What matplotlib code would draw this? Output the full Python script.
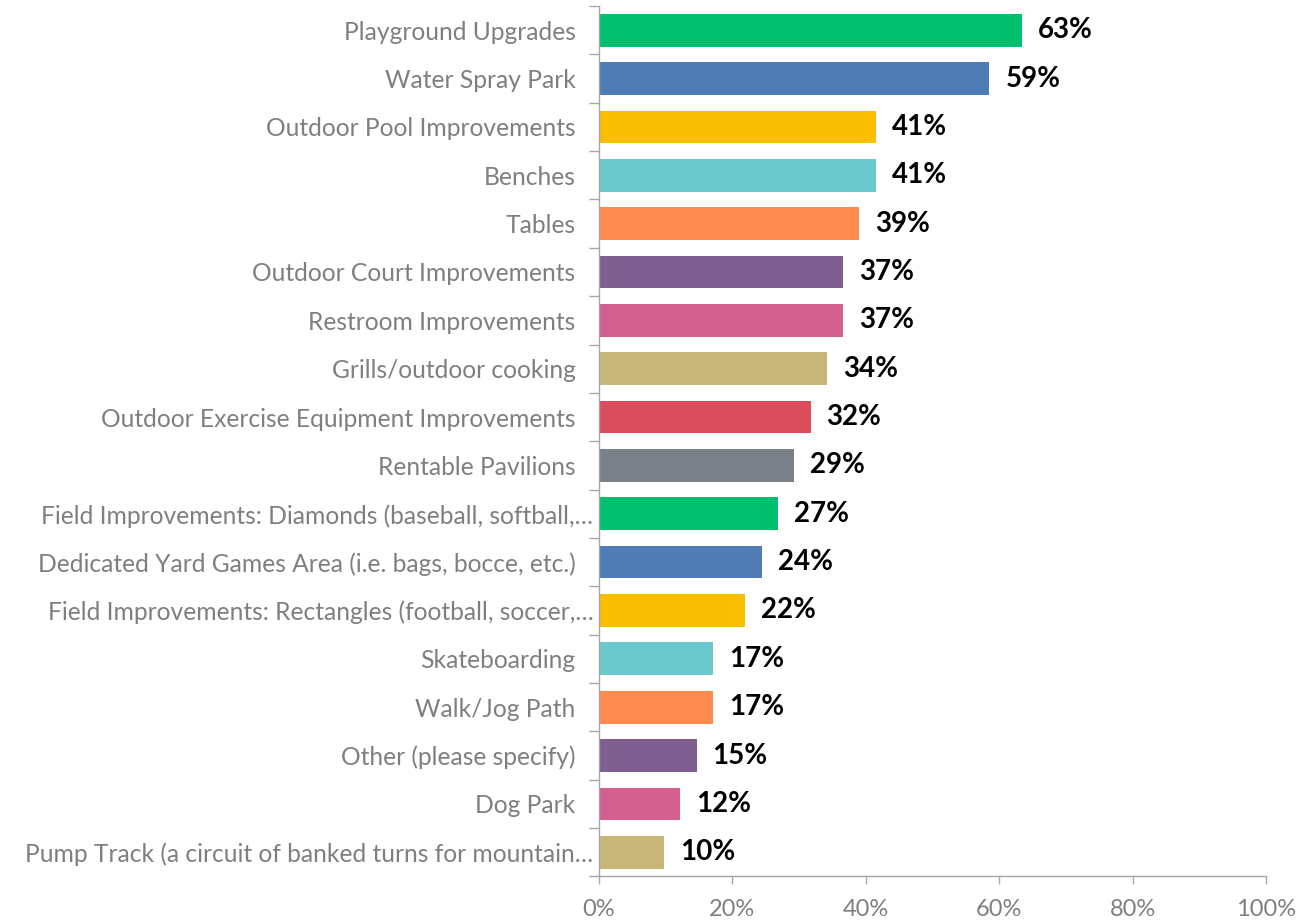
import matplotlib.pyplot as plt
from matplotlib.ticker import FixedLocator
from matplotlib.transforms import ScaledTranslation

categories = [
    "Playground Upgrades",
    "Water Spray Park",
    "Outdoor Pool Improvements",
    "Benches",
    "Tables",
    "Outdoor Court Improvements",
    "Restroom Improvements",
    "Grills/outdoor cooking",
    "Outdoor Exercise Equipment Improvements",
    "Rentable Pavilions",
    "Field Improvements: Diamonds (baseball, softball,\u2026",
    "Dedicated Yard Games Area (i.e. bags, bocce, etc.)",
    "Field Improvements: Rectangles (football, soccer,\u2026",
    "Skateboarding",
    "Walk/Jog Path",
    "Other (please specify)",
    "Dog Park",
    "Pump Track (a circuit of banked turns for mountain\u2026",
]
# percent of respondents
values = [63.41, 58.54, 41.46, 41.46, 39.02, 36.59, 36.59, 34.15, 31.71,
          29.27, 26.83, 24.39, 21.95, 17.07, 17.07, 14.63, 12.20, 9.76]
palette = ["#00BF6F", "#507CB6", "#F9BE00", "#6BC8CD", "#FF8B4F",
           "#7F5F90", "#D35F8F", "#C9B77A", "#DB4D5C", "#7A8189"]
x_ticks = [0, 20, 40, 60, 80, 100]

plt.rcParams["font.family"] = ["Lato", "DejaVu Sans"]

fig = plt.figure(figsize=(13.11, 9.22), dpi=100)
ax = fig.add_axes([0.4569, 0.0494, 0.5088, 0.9441])

pos = list(range(len(categories)))
colors = [palette[i % len(palette)] for i in pos]
ax.barh(pos, values, height=0.676, color=colors, zorder=2)

for y, v in zip(pos, values):
    ax.text(v + 2.4, y, f"{v:.0f}%", va="center", ha="left",
            fontsize=20, fontweight="bold", color="black")

ax.set_xlim(0, 100)
ax.set_ylim(len(categories) - 0.5, -0.5)

ax.set_yticks(pos)
ax.set_yticklabels(categories, fontsize=17.7, color="#7f7f7f")
ax.yaxis.set_minor_locator(FixedLocator([k - 0.5 for k in range(len(categories) + 1)]))
ax.tick_params(axis="y", which="major", length=0, pad=17)
ax.tick_params(axis="y", which="minor", length=7, color="#a6a6a6", width=1)

# truncated labels sit closer to the axis, as in the source chart
shift = ScaledTranslation(13 / 72, 0, fig.dpi_scale_trans)
for lab in ax.get_yticklabels():
    if lab.get_text().endswith("\u2026"):
        lab.set_transform(lab.get_transform() + shift)

ax.set_xticks(x_ticks)
ax.set_xticklabels([f"{t}%" for t in x_ticks], fontsize=17, color="#7f7f7f")
ax.tick_params(axis="x", length=6, color="#a6a6a6", width=1, pad=10)

for side in ["top", "right"]:
    ax.spines[side].set_visible(False)
for side in ["left", "bottom"]:
    ax.spines[side].set_color("#a6a6a6")
    ax.spines[side].set_linewidth(1)

fig.savefig("out.png", dpi=100)
